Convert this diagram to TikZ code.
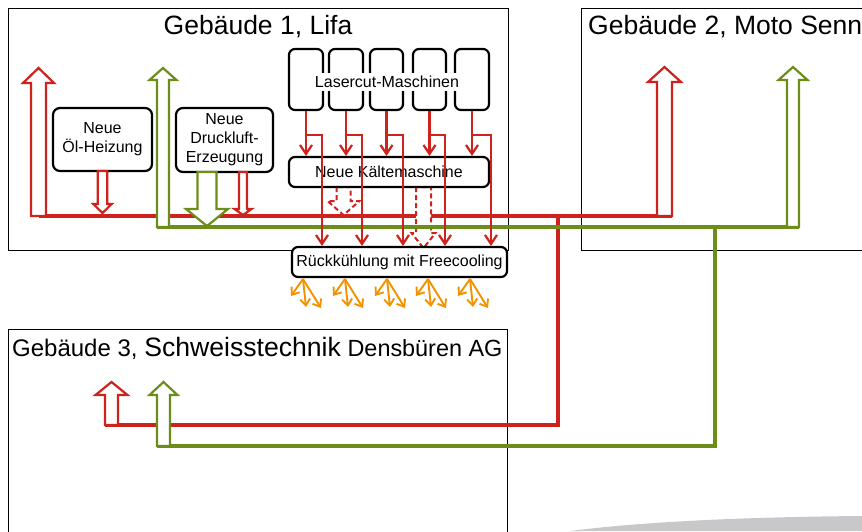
\documentclass[tikz,border=0pt]{standalone}
\usepackage{fontspec}
\setmainfont{Liberation Sans}
\usetikzlibrary{arrows.meta,calc}
\definecolor{pipered}{RGB}{206,34,28}
\definecolor{pipegreen}{RGB}{108,142,24}
\definecolor{fanorange}{RGB}{243,146,0}
\definecolor{swooshgrey}{RGB}{200,200,202}
% style, cx, ybase, yhead, ytip, shaft half width, head half width
\newcommand{\myblockarrow}[7]{%
  \draw[#1] (#2-#6,#3) -- (#2-#6,#4) -- (#2-#7,#4) -- (#2,#5) -- (#2+#7,#4) -- (#2+#6,#4) -- (#2+#6,#3) -- cycle;}
\begin{document}
\begin{tikzpicture}[x=1pt,y=-1pt,
  building/.style={draw, line width=1.2pt, inner sep=0pt, anchor=north west},
  title/.style={inner sep=0pt, font=\fontsize{26.5}{30}\selectfont},
  box/.style={draw, line width=2.2pt, rounded corners=7pt, fill=white, inner sep=0pt,
              align=center, font=\fontsize{16}{19}\selectfont},
  redpipe/.style={draw=pipered, line width=3.5pt},
  greenpipe/.style={draw=pipegreen, line width=3.5pt},
  redblock/.style={draw=pipered, line width=2.2pt, fill=white},
  greenblock/.style={draw=pipegreen, line width=2.2pt, fill=white},
  dashblock/.style={draw=pipered, line width=2pt, fill=white, dash pattern=on 5pt off 3pt},
  lc/.style={draw=pipered, line width=2.2pt, -{Straight Barb[length=9pt,width=12pt]}},
  fan/.style={draw=fanorange, line width=1.9pt, -{Straight Barb[length=6.5pt,width=10pt]}}
]
\useasboundingbox (0,0) rectangle (862,531);

% buildings
\node[building, minimum width=500pt, minimum height=242pt] (b1) at (8,8) {};
\node[building, minimum width=320pt, minimum height=242pt] (b2) at (581,8) {};
\node[building, minimum width=499pt, minimum height=260pt] (b3) at (8,329) {};
\node[title, anchor=base] (t1) at (258,34) {Gebäude 1, Lifa};
\node[title, anchor=base west] (t2) at (588,34) {Gebäude 2, Moto Senn};
\node[inner sep=0pt, anchor=base west] (t3) at (12,356)
  {\fontsize{24}{28}\selectfont Gebäude 3, {\fontsize{26.6}{30}\selectfont Schweisstechnik} {\fontsize{23.4}{28}\selectfont Densbüren AG}};

% grey swoosh
\fill[swooshgrey] (570,531) .. controls (640,522) and (740,517) .. (862,516) -- (862,531) -- cycle;

% pipe coordinates
\coordinate (r1) at (38.5,216);
\coordinate (r2) at (672,216);
\coordinate (rj) at (558,216);
\coordinate (r3) at (105,425);
\coordinate (g1) at (157,227);
\coordinate (g2) at (799,227);
\coordinate (gj) at (715,227);
\coordinate (g3) at (157,446);

% red pipes
\draw[redpipe] (r1) -- (r2);
\draw[redpipe] (rj) |- (r3);

% dashed arrows from Kaeltemaschine
\myblockarrow{dashblock}{343.5}{187}{201}{215}{7}{16}
\myblockarrow{dashblock}{423.5}{187}{233}{248}{7.5}{12}

% green pipes
\draw[greenpipe] (g1) -- (g2);
\draw[greenpipe] (gj) |- (g3);

% up arrows (consumers)
\myblockarrow{redblock}{38.5}{216}{83}{68}{7.5}{15.5}
\myblockarrow{greenblock}{163}{227}{80}{68}{6}{13.5}
\myblockarrow{redblock}{664.5}{216}{82}{67}{7.5}{16.5}
\myblockarrow{greenblock}{793}{227}{80}{67}{6}{14.5}
\myblockarrow{redblock}{111.5}{425}{395}{382}{6.5}{16}
\myblockarrow{greenblock}{163.5}{446}{395}{382}{6.5}{14}

% boxes
\node[box, minimum width=99pt, minimum height=63pt] (oel) at (102.5,139.5) {Neue\\Öl-Heizung};
\node[box, minimum width=97pt, minimum height=64pt] (druck) at (224.5,140) {Neue\\Druckluft-\\Erzeugung};

% down arrows from generators
\myblockarrow{redblock}{102.5}{171}{204}{213}{4.8}{9.2}
\myblockarrow{greenblock}{207}{172}{209}{226}{9.5}{21}
\myblockarrow{redblock}{243}{172}{209}{215}{4}{8.5}

% lasercut machines
\node[box, rounded corners=6pt, minimum width=34pt, minimum height=61pt] (m1) at (306,79.5) {};
\node[box, rounded corners=6pt, minimum width=34pt, minimum height=61pt] (m2) at (346,79.5) {};
\node[box, rounded corners=6pt, minimum width=33pt, minimum height=61pt] (m3) at (386.5,79.5) {};
\node[box, rounded corners=6pt, minimum width=33pt, minimum height=61pt] (m4) at (429.5,79.5) {};
\node[box, rounded corners=6pt, minimum width=34pt, minimum height=61pt] (m5) at (472,79.5) {};
\node[fill=white, inner sep=3pt, font=\fontsize{16}{19}\selectfont] (lasertxt) at (387,82) {Lasercut-Maschinen};

\node[box, rounded corners=6pt, minimum width=200pt, minimum height=30pt] (kaelte) at (389,172) {Neue Kältemaschine};
\node[box, rounded corners=6pt, minimum width=215pt, minimum height=30pt] (rueck) at (399.5,262) {Rückkühlung mit Freecooling};

% lasercut connectors
\foreach \m/\dx in {m1/16, m2/16, m3/16.5, m4/15.5, m5/19} {
  \draw[lc] (\m.south) -- (\m.south |- kaelte.north);
  \draw[lc] (\m.south) ++(0,24) -| ($(\m.south |- rueck.north)+(\dx,0)$);
}

% orange fans
\foreach \ox [count=\i] in {303,345,387,428,470} {
  \coordinate (f\i) at (\ox,279);
  \draw[fan] (f\i) -- ++(-12,17);
  \draw[fan] (f\i) -- ++(3,28);
  \draw[fan] (f\i) -- ++(18,29);
}
\end{tikzpicture}
\end{document}
